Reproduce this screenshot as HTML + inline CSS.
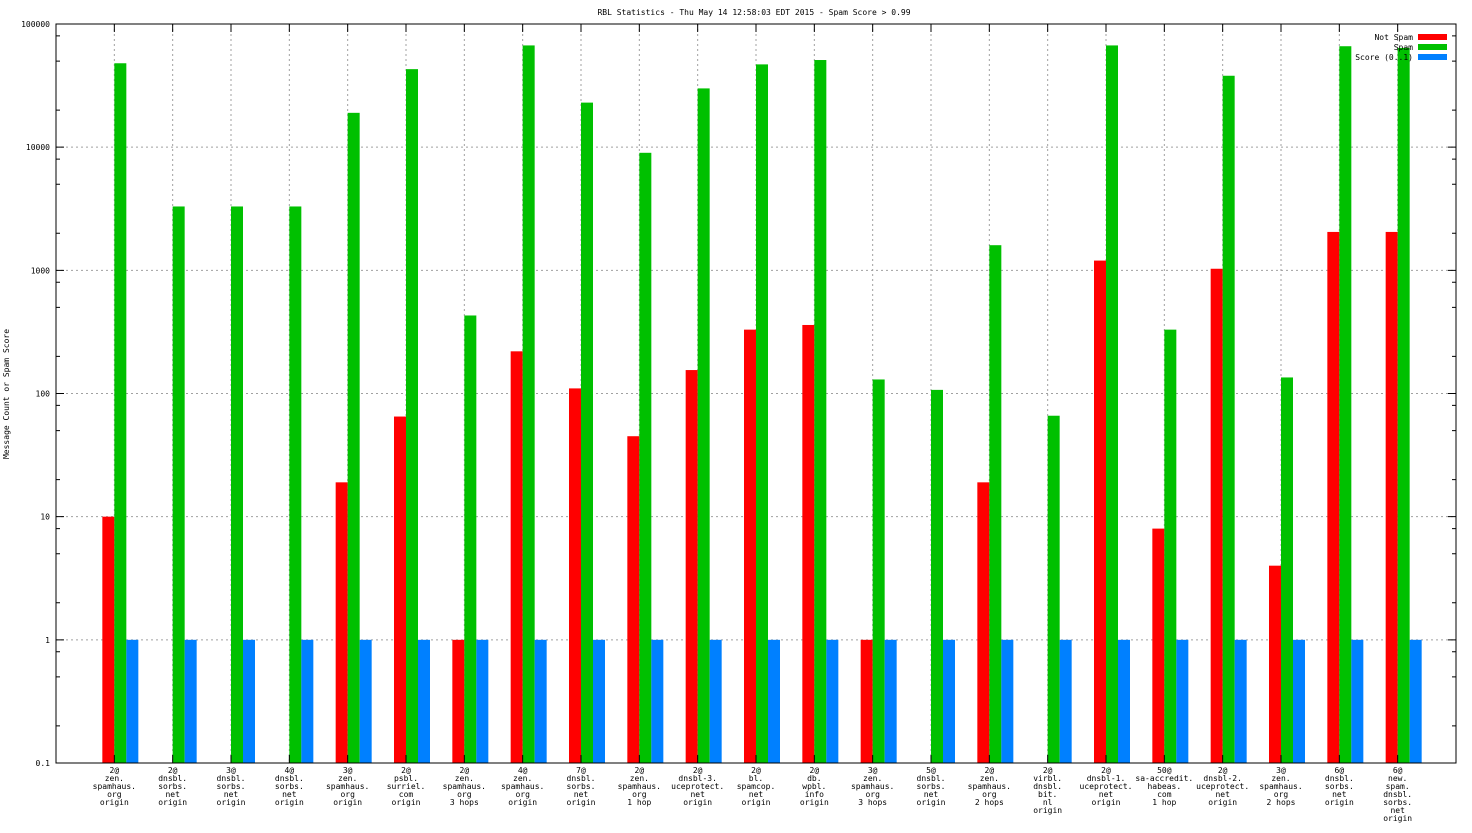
<!DOCTYPE html>
<html><head><meta charset="utf-8"><style>
body{margin:0;background:#fff}
svg text{font-family:"DejaVu Sans Mono","Liberation Mono",monospace;font-size:8px;fill:#000}
</style></head><body>
<svg id="chart" width="1472" height="828">
<text x="754" y="15" text-anchor="middle">RBL Statistics - Thu May 14 12:58:03 EDT 2015 - Spam Score &gt; 0.99</text>
<text transform="translate(9,394) rotate(-90)" text-anchor="middle">Message Count or Spam Score</text>
<g id="grid"></g><g id="bars"></g><g id="axes"></g>
<g>
<text x="1413" y="40" text-anchor="end">Not Spam</text>
<rect x="1418" y="34" width="29" height="6" fill="#ff0000"/>
<text x="1413" y="50" text-anchor="end">Spam</text>
<rect x="1418" y="44" width="29" height="6" fill="#00c000"/>
<text x="1413" y="60" text-anchor="end">Score (0..1)</text>
<rect x="1418" y="54" width="29" height="6" fill="#0080ff"/>
</g>
</svg>
<script>
const categories=[["2@","zen.","spamhaus.","org","origin"],["2@","dnsbl.","sorbs.","net","origin"],["3@","dnsbl.","sorbs.","net","origin"],["4@","dnsbl.","sorbs.","net","origin"],["3@","zen.","spamhaus.","org","origin"],["2@","psbl.","surriel.","com","origin"],["2@","zen.","spamhaus.","org","3 hops"],["4@","zen.","spamhaus.","org","origin"],["7@","dnsbl.","sorbs.","net","origin"],["2@","zen.","spamhaus.","org","1 hop"],["2@","dnsbl-3.","uceprotect.","net","origin"],["2@","bl.","spamcop.","net","origin"],["2@","db.","wpbl.","info","origin"],["3@","zen.","spamhaus.","org","3 hops"],["5@","dnsbl.","sorbs.","net","origin"],["2@","zen.","spamhaus.","org","2 hops"],["2@","virbl.","dnsbl.","bit.","nl","origin"],["2@","dnsbl-1.","uceprotect.","net","origin"],["50@","sa-accredit.","habeas.","com","1 hop"],["2@","dnsbl-2.","uceprotect.","net","origin"],["3@","zen.","spamhaus.","org","2 hops"],["6@","dnsbl.","sorbs.","net","origin"],["6@","new.","spam.","dnsbl.","sorbs.","net","origin"]];
const notSpam=[10,0,0,0,19,65,1,220,110,45,155,330,360,1,0,19,0,1200,8,1030,4,2050,2050];
const spam=[48000,3300,3300,3300,19000,43000,430,67000,23000,9000,30000,47000,51000,130,107,1600,66,67000,330,38000,135,66000,64000];
const score=[1,1,1,1,1,1,1,1,1,1,1,1,1,1,1,1,1,1,1,1,1,1,1];
const yTicks=[0.1,1,10,100,1000,10000,100000];
const yTickLabels=["0.1","1","10","100","1000","10000","100000"];
const minorMult=[2,5,8];
const L=56,R=1456,T=24,B=763,NS="http://www.w3.org/2000/svg";
const y=v=>B-(Math.log10(v)+1)/6*(B-T);
const slot=(R-L)/(categories.length+1);
const x=i=>L+slot*(i+1);
function mk(p,tag,a){const e=document.createElementNS(NS,tag);for(const k in a)e.setAttribute(k,a[k]);document.getElementById(p).appendChild(e);return e;}
yTicks.forEach((t,i)=>{const yy=y(t);
 if(i>0&&i<yTicks.length-1){const g=mk('grid','line',{x1:L,x2:R,y1:yy,y2:yy,stroke:'#a0a0a0','stroke-dasharray':'2,3'});
 
 }
 const tk=mk('axes','path',{d:`M${L} ${yy}h8M${R} ${yy}h-8`,stroke:'#000'});
 
 
 if(i<yTicks.length-1){minorMult.forEach(m=>{const my=y(t*m);
  const mt=mk('axes','path',{d:`M${L} ${my}h4M${R} ${my}h-4`,stroke:'#000'});
  
  });}
 const tx=mk('axes','text',{x:L-6,y:yy+3,'text-anchor':'end'});tx.textContent=yTickLabels[i];
 
 
});
categories.forEach((c,i)=>{const cx=x(i);
 const g=mk('grid','line',{x1:cx,x2:cx,y1:T,y2:B,stroke:'#a0a0a0','stroke-dasharray':'2,3'});
 
 
 const tk=mk('axes','path',{d:`M${cx} ${T}v8M${cx} ${B}v-8`,stroke:'#000'});
 
 
 c.forEach((ln,j)=>{const t=mk('axes','text',{x:cx,y:B+10+j*8,'text-anchor':'middle'});t.textContent=ln;
  
  });
 [[notSpam,'#ff0000',-12,'bar-not-spam'],[spam,'#00c000',0,'bar-spam'],[score,'#0080ff',12,'bar-score']].forEach(([arr,col,off,nm])=>{
  const v=arr[i];if(!(v>0))return;const top=y(v);
  const r=mk('bars','rect',{x:cx+off,y:top,width:12,height:B-top,fill:col});
  
  
 });
});
const fr=mk('axes','rect',{x:L,y:T,width:R-L,height:B-T,fill:'none',stroke:'#000'});


</script>
</body></html>
